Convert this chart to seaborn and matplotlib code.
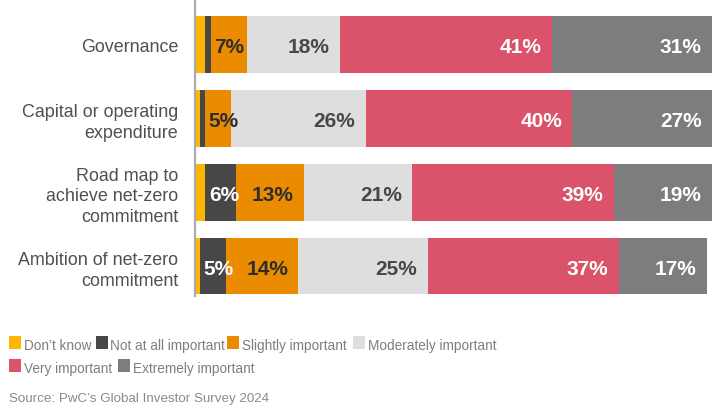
import numpy as np
import pandas as pd
import matplotlib
matplotlib.use("Agg")
import matplotlib.pyplot as plt
from matplotlib.patches import Rectangle
import seaborn as sns

categories = ["Governance", "Capital or operating\nexpenditure",
              "Road map to\nachieve net-zero\ncommitment",
              "Ambition of net-zero\ncommitment"]
series_names = ["Don\u2019t know", "Not at all important", "Slightly important",
                "Moderately important", "Very important", "Extremely important"]
dont_know = [2, 1, 2, 1]
not_at_all = [1, 1, 6, 5]
slightly = [7, 5, 13, 14]
moderately = [18, 26, 21, 25]
very = [41, 40, 39, 37]
extremely = [31, 27, 19, 17]
colors = ["#FFB600", "#474747", "#EB8C00", "#DEDEDE", "#DB536A", "#7D7D7D"]
label_colors = [None, "#FFFFFF", "#2D2D2D", "#474747", "#FFFFFF", "#FFFFFF"]
source = "Source: PwC\u2019s Global Investor Survey 2024"

sns.set_theme(style="white")
plt.rcParams["font.family"] = ["Liberation Sans", "DejaVu Sans"]

W, H = 718, 410
fig = plt.figure(figsize=(W / 100, H / 100), dpi=100)
ax = fig.add_axes([195 / W, 1 - 297 / H, 517 / W, 297 / H])

series = [dont_know, not_at_all, slightly, moderately, very, extremely]
vals = np.array(series, dtype=float)
cum = np.cumsum(vals, axis=0)

# stacked bars: longest cumulative first, then overlay shorter ones
for i in range(len(series) - 1, -1, -1):
    df = pd.DataFrame({"cat": categories, "val": cum[i]})
    sns.barplot(data=df, x="val", y="cat", orient="h", color=colors[i],
                saturation=1, width=0.77, ax=ax, linewidth=0)

# value labels
for i in range(len(series)):
    for j in range(len(categories)):
        v = vals[i, j]
        if v < 5:
            continue
        end = cum[i, j]
        start = end - v
        xr = max(end - 2.0, start + 6.5)
        ax.text(xr, j, f"{int(v)}%", ha="right", va="center_baseline",
                fontsize=15, fontweight="bold", color=label_colors[i])

ax.set_xlim(0, 100)
ax.set_ylim(3.406, -0.616)
ax.set_xlabel("")
ax.set_ylabel("")
ax.set_xticks([])
for s in ["top", "right", "bottom"]:
    ax.spines[s].set_visible(False)
ax.spines["left"].set_color("#ABABAB")
ax.spines["left"].set_linewidth(1.6)
ax.tick_params(axis="y", length=0, pad=12, labelsize=12.9, labelcolor="#505050")
ax.set_yticks(range(len(categories)))
ax.set_yticklabels(categories, linespacing=1.28, multialignment="right")

# legend (flowed rows)
def px(x, y):
    return x / W, 1 - y / H

legend_rows = [
    [(0, 9, 24), (1, 96, 110), (2, 227, 242), (3, 353, 368)],
    [(4, 9, 24), (5, 118, 133)],
]
row_sq_top = [337, 360]
row_base = [350.5, 373.5]
for r, items in enumerate(legend_rows):
    for (k, sx, tx) in items:
        x0, y0 = px(sx, row_sq_top[r] + 13)
        fig.patches.append(Rectangle((x0, y0), 12 / W, 13 / H, transform=fig.transFigure,
                                     facecolor=colors[k], edgecolor="none"))
        tx0, ty0 = px(tx, row_base[r])
        fig.text(tx0, ty0, series_names[k], ha="left", va="baseline",
                 fontsize=9.8, color="#7F7F7F")

sx, sy = px(9, 402.5)
fig.text(sx, sy, source, ha="left", va="baseline", fontsize=9.6, color="#8A8A8A")

fig.savefig("out.png", dpi=100)
